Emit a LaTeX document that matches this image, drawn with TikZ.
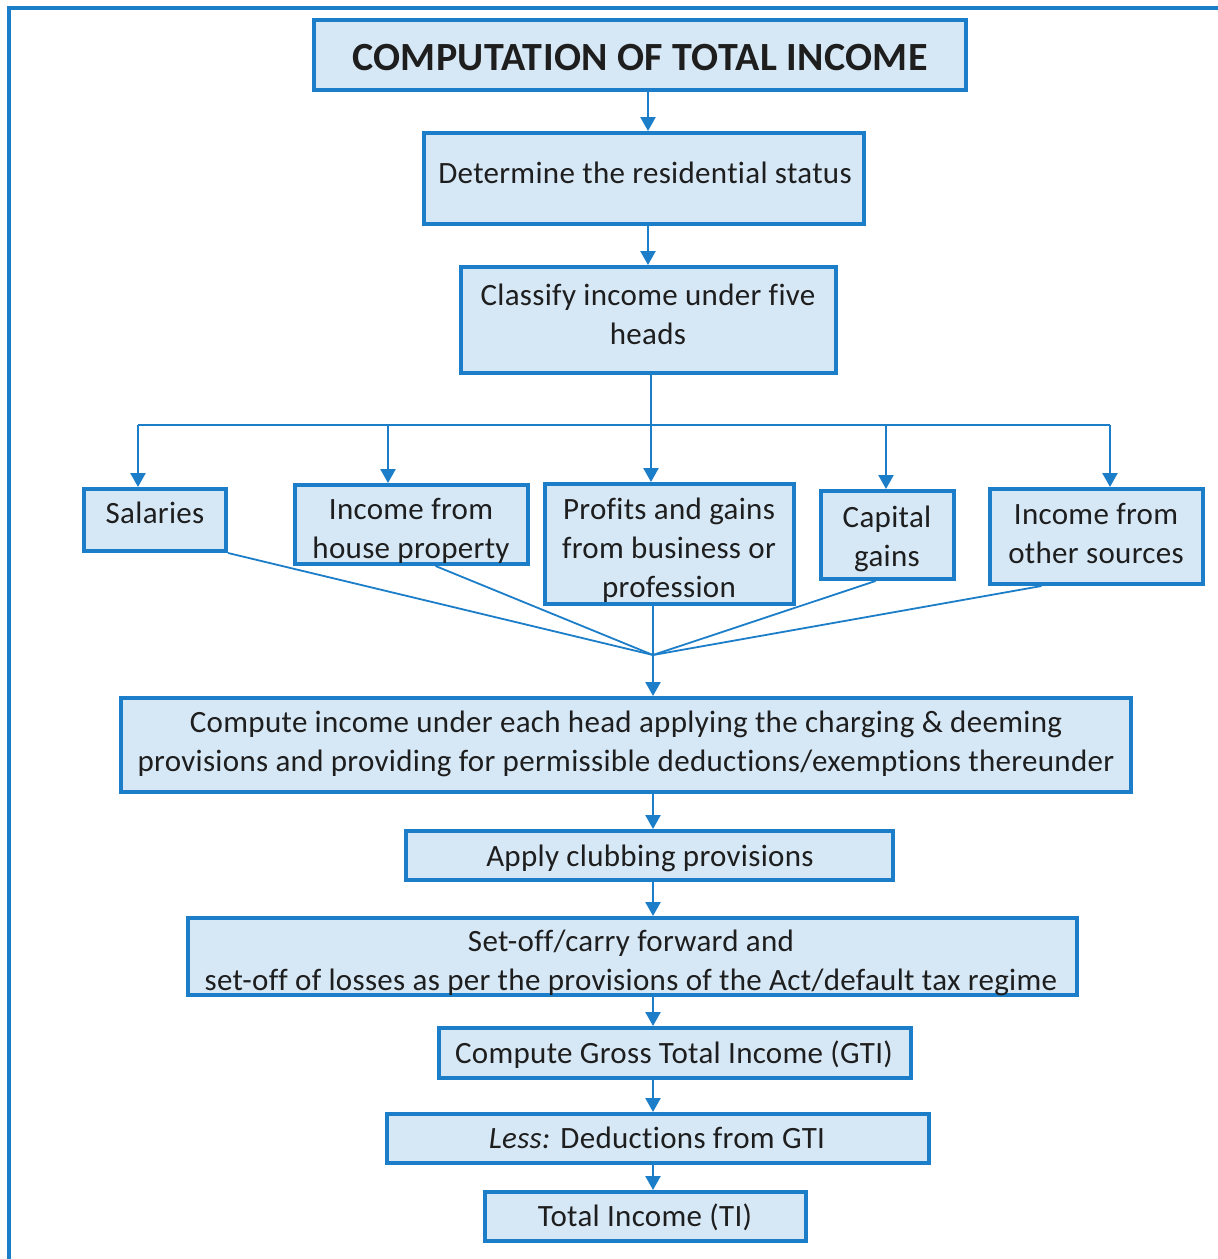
\documentclass[tikz,border=0pt]{standalone}
\usepackage{fontspec}
\setmainfont{Carlito}[Ligatures=NoCommon, LetterSpace=1]
\usetikzlibrary{arrows.meta}
\definecolor{edgeblue}{RGB}{28,126,200}
\definecolor{boxfill}{RGB}{214,232,246}
\definecolor{inktext}{RGB}{30,30,30}
\begin{document}
\begin{tikzpicture}[x=1pt,y=-1pt,
  box/.style={draw=edgeblue, fill=boxfill, line width=4pt, inner sep=0pt},
  txt/.style={inner sep=0pt, align=center, text=inktext,
    font=\fontsize{31}{39}\selectfont},
  link/.style={draw=edgeblue, line width=2.5pt},
  merge/.style={draw=edgeblue, line width=1.8pt},
  flow/.style={link, -{Triangle[width=15pt,length=14pt]}}]
\useasboundingbox (0,0) rectangle (1218,1259);
\fill[white] (0,0) rectangle (1218,1259);
% outer frame, running off the page at right and bottom
\draw[edgeblue, line width=4pt] (9,1300) |- (1300,8);

% boxes of the main column
\node[box, minimum width=652pt, minimum height=70pt] (title) at (640,55) {};
\node[box, minimum width=440pt, minimum height=91pt] (det) at (644,178.5) {};
\node[box, minimum width=375pt, minimum height=106pt] (cls) at (648.5,320) {};

% boxes of the five heads
\node[box, minimum width=142pt, minimum height=62pt] (sal) at (155,520) {};
\node[box, minimum width=233pt, minimum height=79pt] (hp) at (411.5,524.5) {};
\node[box, minimum width=249pt, minimum height=120pt] (pgbp) at (669.5,544) {};
\node[box, minimum width=133pt, minimum height=88pt] (cg) at (887.5,535) {};
\node[box, minimum width=213pt, minimum height=95pt] (ios) at (1096.5,536.5) {};

% boxes of the computation steps
\node[box, minimum width=1010pt, minimum height=94pt] (comp) at (626,745) {};
\node[box, minimum width=487pt, minimum height=49pt] (club) at (649.5,855.5) {};
\node[box, minimum width=889pt, minimum height=77pt] (setoff) at (632.5,956.5) {};
\node[box, minimum width=472pt, minimum height=50pt] (gti) at (675,1053) {};
\node[box, minimum width=542pt, minimum height=49pt] (ded) at (658,1138.5) {};
\node[box, minimum width=321pt, minimum height=49pt] (ti) at (645.5,1216.5) {};

% box texts
\node[txt, font=\fontsize{40}{46}\selectfont\bfseries] (title-t) at (640,61.5) {\strut COMPUTATION OF TOTAL INCOME\strut};
\node[txt] (det-t) at (645,176) {\strut Determine the residential status\strut};
\node[txt] (cls-t) at (648,317.5) {\strut Classify income under five\\heads\strut};
\node[txt] (sal-t) at (155,516) {\strut Salaries\strut};
\node[txt] (hp-t) at (411,531.5) {\strut Income from\\house property\strut};
\node[txt] (pgbp-t) at (669,551) {\strut Profits and gains\\from business or\\profession\strut};
\node[txt] (cg-t) at (887,539.5) {\strut Capital\\gains\strut};
\node[txt] (ios-t) at (1096,536.5) {\strut Income from\\other sources\strut};
\node[txt] (comp-t) at (626,744.5) {\strut Compute income under each head applying the charging \& deeming\\provisions and providing for permissible deductions/exemptions thereunder\strut};
\node[txt] (club-t) at (650,859) {\strut Apply clubbing provisions\strut};
\node[txt] (setoff-t) at (631,963.5) {\strut Set-off/carry forward and\\set-off of losses as per the provisions of the Act/default tax regime\strut};
\node[txt] (gti-t) at (674,1056) {\strut Compute Gross Total Income (GTI)\strut};
\node[txt] (ded-t) at (657,1141) {\strut\textit{Less:} Deductions from GTI\strut};
\node[txt] (ti-t) at (645,1219) {\strut Total Income (TI)\strut};

% axes and junctions
\coordinate (axa) at (648,0);
\coordinate (axb) at (653,0);
\coordinate (b1) at (138,425);
\coordinate (b2) at (388,425);
\coordinate (b3) at (651,425);
\coordinate (b4) at (886,425);
\coordinate (b5) at (1110,425);
\coordinate (m) at (653,655);

% top of the flow
\draw[flow] (title.south -| axa) -- (det.north -| axa);
\draw[flow] (det.south -| axa) -- (cls.north -| axa);

% distribution bus to the heads
\draw[link] (b1) -- (b5);
\draw[flow] (cls.south -| b3) -- (b3 |- pgbp.north);
\draw[flow] (b1) -- (b1 |- sal.north);
\draw[flow] (b2) -- (b2 |- hp.north);
\draw[flow] (b4) -- (b4 |- cg.north);
\draw[flow] (b5) -- (b5 |- ios.north);

% heads merging into one point
\draw[merge] (sal.south east) -- (m);
\draw[merge] ([xshift=24pt]hp.south) -- (m);
\draw[merge] (pgbp.south -| m) -- (m);
\draw[merge] ([xshift=-12pt]cg.south) -- (m);
\draw[merge] ([xshift=-55pt]ios.south) -- (m);
\draw[flow] (m) -- (m |- comp.north);

% lower column
\draw[flow] (comp.south -| axb) -- (club.north -| axb);
\draw[flow] (club.south -| axb) -- (setoff.north -| axb);
\draw[flow] (setoff.south -| axb) -- (gti.north -| axb);
\draw[flow] (gti.south -| axb) -- (ded.north -| axb);
\draw[flow] (ded.south -| axb) -- (ti.north -| axb);
\end{tikzpicture}
\end{document}
